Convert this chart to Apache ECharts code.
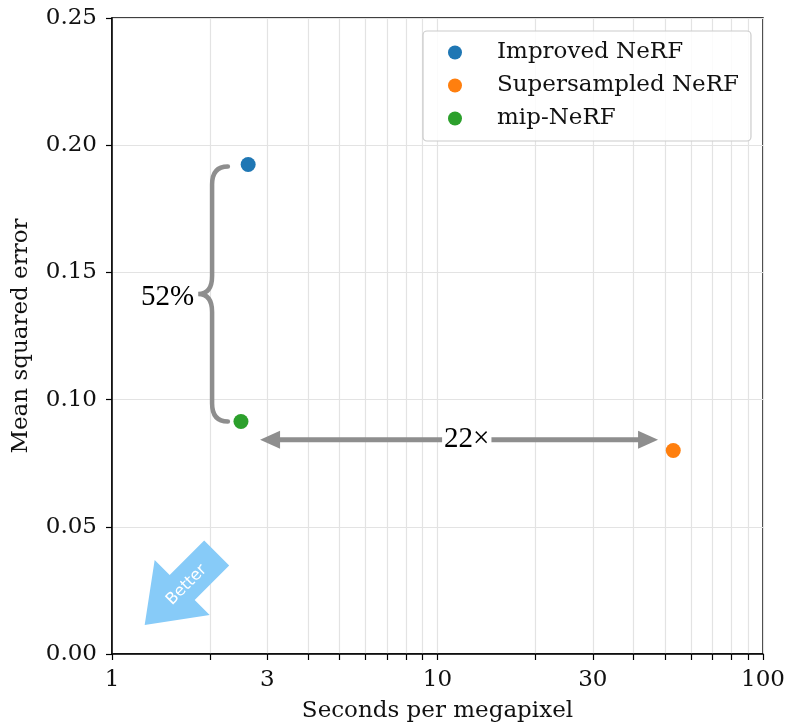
<!DOCTYPE html>
<html>
<head>
<meta charset="utf-8">
<script src="https://cdn.jsdelivr.net/npm/echarts@6/dist/echarts.min.js"></script>
<style>
  html, body { margin: 0; padding: 0; background: #fff; }
  #chart { width: 788px; height: 725px; }
</style>
</head>
<body>
<div id="chart"></div>
<script>
// data
const methods = ['Improved NeRF', 'Supersampled NeRF', 'mip-NeRF']
const secPerMegapixel = [2.62, 53.0, 2.49]
const meanSqError = [0.1924, 0.0800, 0.0914]
const methodColors = ['#1f77b4', '#ff7f0e', '#2ca02c']

// axes
const xTickValues = [1, 2, 3, 4, 5, 6, 7, 8, 9, 10, 20, 30, 40, 50, 60, 70, 80, 90, 100]
const xLabelValues = [1, 3, 10, 30, 100]

// annotations (data space)
const braceSpineX = 2.03
const braceEndX = 2.27
const bracePointX = 1.84
const braceText = '52%'
const arrowY = 0.0842
const arrowFromX = 2.85
const arrowToX = 47.6
const arrowLabelX = 12.3
const arrowText = '22×'
const betterTip = [1.26, 0.0114]

const serif = '"DejaVu Serif", serif'
const mathFont = '"Liberation Serif", serif'
const gray = '#8e8e8e'
const textColor = '#111'

const chart = echarts.init(document.getElementById('chart'))

const scatterSeries = methods.map((name, i) => ({
  name: name,
  type: 'scatter',
  symbol: 'circle',
  symbolSize: 15,
  z: 5,
  itemStyle: { color: methodColors[i], opacity: 1 },
  data: [[secPerMegapixel[i], meanSqError[i]]]
}))

// 注释：大括号、双向箭头、Better 箭头
const renderNotes = (params, api) => {
  const top = api.coord([braceEndX, meanSqError[0]])
  const bot = api.coord([braceEndX, meanSqError[2]])
  const xs = api.coord([braceSpineX, 0])[0]
  const xp = api.coord([bracePointX, 0])[0]
  const xe = top[0]
  const yt = top[1] + 2
  const yb = bot[1]
  const ym = (yt + yb) / 2
  const r = 18
  const bracePath = [
    'M', xe, yt,
    'Q', xs, yt, xs, yt + r,
    'L', xs, ym - r,
    'Q', xs, ym, xp, ym,
    'Q', xs, ym, xs, ym + r,
    'L', xs, yb - r,
    'Q', xs, yb, xe, yb
  ].join(' ')

  const a = api.coord([arrowFromX, arrowY])
  const b = api.coord([arrowToX, arrowY])
  const lab = api.coord([arrowLabelX, arrowY])
  const hl = 20
  const hw = 9

  const t = api.coord(betterTip)
  const pts = [[0, 0], [10, -65], [25, -50], [59.5, -84.5], [84.5, -59.5], [50, -25], [65, -10]]

  return {
    type: 'group',
    children: [
      {
        type: 'path',
        shape: { pathData: bracePath },
        style: { fill: null, stroke: gray, lineWidth: 4.5, lineCap: 'round' }
      },
      {
        type: 'text',
        x: xp - 4,
        y: ym + 3,
        style: { text: braceText, font: '29px ' + mathFont, fill: '#000', align: 'right', verticalAlign: 'middle' }
      },
      {
        type: 'line',
        shape: { x1: a[0] + hl - 2, y1: a[1], x2: b[0] - hl + 2, y2: b[1] },
        style: { stroke: gray, lineWidth: 5 }
      },
      {
        type: 'polygon',
        shape: { points: [[a[0], a[1]], [a[0] + hl, a[1] - hw], [a[0] + hl, a[1] + hw]] },
        style: { fill: gray }
      },
      {
        type: 'polygon',
        shape: { points: [[b[0], b[1]], [b[0] - hl, b[1] - hw], [b[0] - hl, b[1] + hw]] },
        style: { fill: gray }
      },
      {
        type: 'text',
        x: lab[0],
        y: lab[1],
        style: {
          text: arrowText, font: '29px ' + mathFont, fill: '#000',
          align: 'center', verticalAlign: 'middle',
          backgroundColor: '#fff', padding: [0, 2]
        }
      },
      {
        type: 'polygon',
        shape: { points: pts.map(p => [t[0] + p[0], t[1] + p[1]]) },
        style: { fill: '#87cbf8' }
      },
      {
        type: 'text',
        x: t[0] + 42,
        y: t[1] - 40,
        rotation: Math.PI / 4,
        style: { text: 'Better', font: '16px "DejaVu Sans", sans-serif', fill: '#fff', align: 'center', verticalAlign: 'middle' }
      }
    ]
  }
}

const option = {
  animation: false,
  backgroundColor: '#fff',
  grid: {
    left: 112, right: 25, top: 18, bottom: 71,
    containLabel: false,
    outerBoundsMode: 'none',
    show: true, borderColor: '#000', borderWidth: 1.5, backgroundColor: 'transparent'
  },
  legend: {
    data: methods,
    left: 423,
    top: 31,
    orient: 'vertical',
    icon: 'circle',
    itemWidth: 14,
    itemHeight: 14,
    itemGap: 10,
    padding: [10, 12, 11, 25],
    backgroundColor: 'rgba(255,255,255,0.85)',
    borderColor: '#cccccc',
    borderWidth: 1.2,
    borderRadius: 4,
    selectedMode: false,
    textStyle: { fontFamily: serif, fontSize: 23, color: textColor, lineHeight: 23, padding: [0, 0, 0, 30] }
  },
  xAxis: {
    type: 'log',
    logBase: 10,
    min: 1,
    max: 100,
    name: 'Seconds per megapixel',
    nameLocation: 'middle',
    nameGap: 46,
    nameTextStyle: { fontFamily: serif, fontSize: 23, color: textColor },
    axisLine: { show: true, onZero: false, lineStyle: { color: '#000', width: 1.5 } },
    axisTick: { show: true, inside: false, length: 6, customValues: xTickValues, lineStyle: { color: '#000', width: 1.2 } },
    axisLabel: { customValues: xLabelValues, margin: 15, fontFamily: serif, fontSize: 23, color: textColor },
    splitLine: { show: true, lineStyle: { color: '#e3e3e3', width: 1.2 } },
    minorTick: { show: false },
    minorSplitLine: { show: false }
  },
  yAxis: {
    type: 'value',
    min: 0,
    max: 0.25,
    interval: 0.05,
    name: 'Mean squared error',
    nameLocation: 'middle',
    nameGap: 79,
    nameTextStyle: { fontFamily: serif, fontSize: 23, color: textColor },
    axisLine: { show: true, lineStyle: { color: '#000', width: 1.5 } },
    axisTick: { show: true, length: 6, lineStyle: { color: '#000', width: 1.2 } },
    axisLabel: { margin: 15, fontFamily: serif, fontSize: 23, color: textColor, formatter: v => v.toFixed(2) },
    splitLine: { show: true, lineStyle: { color: '#e3e3e3', width: 1.2 } }
  },
  series: [
    ...scatterSeries,
    {
      type: 'custom',
      name: 'notes',
      silent: true,
      z: 4,
      clip: false,
      data: [[1, 0]],
      renderItem: renderNotes
    }
  ]
}

chart.setOption(option)
</script>
</body>
</html>
